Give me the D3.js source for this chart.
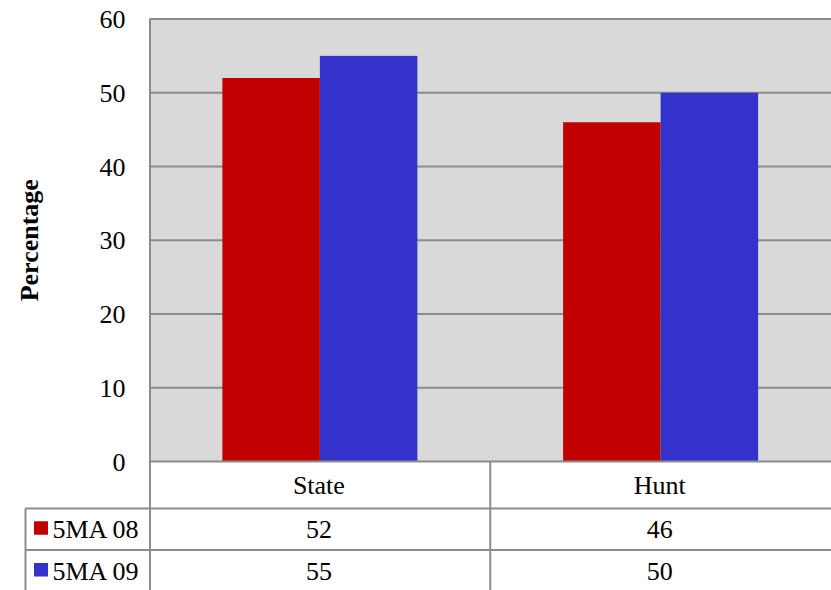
<!DOCTYPE html>
<html>
<head>
<meta charset="utf-8">
<script src="https://cdn.jsdelivr.net/npm/d3@7"></script>
<style>
  html, body { margin: 0; padding: 0; background: #fff; }
  svg { display: block; }
</style>
</head>
<body>
<svg id="chart" width="831" height="590"></svg>
<script>
const categories = ["State", "Hunt"];
const seriesNames = ["5MA 08", "5MA 09"];
const values08 = [52, 46];
const values09 = [55, 50];
const seriesColors = ["#c00000", "#3333cc"];
const yTicks = [0, 10, 20, 30, 40, 50, 60];
const yLabel = "Percentage";

(function () {
const seriesValues = [values08, values09];
const svg = d3.select("#chart");
const W = 831, H = 590;
const pLeft = 149.5, pRight = 831, pTop = 19, pBottom = 461.5;
const gridColor = "#8c8c8c";
const fs = 26;
const FONT = '"Liberation Serif"';

const x = d3.scaleBand().domain(categories).range([pLeft, pRight]).padding(0);
const y = d3.scaleLinear().domain([0, 60]).range([pBottom, pTop]);
const barW = 97.5;
const xs = d3.scaleBand().domain(seriesNames).range([-barW, barW]).padding(0);

svg.append("rect").attr("x", pLeft).attr("y", pTop)
  .attr("width", pRight - pLeft + 2).attr("height", pBottom - pTop).attr("fill", "#d9d9d9");

svg.append("g").selectAll("line").data(yTicks.filter(d => d > 0)).join("line")
  .attr("x1", pLeft).attr("x2", W + 2)
  .attr("y1", d => y(d)).attr("y2", d => y(d))
  .attr("stroke", gridColor).attr("stroke-width", 2);

categories.forEach((c, ci) => {
  const cx = x(c) + x.bandwidth() / 2;
  seriesNames.forEach((s, si) => {
    const v = seriesValues[si][ci];
    svg.append("rect")
      .attr("x", cx + xs(s)).attr("width", xs.bandwidth())
      .attr("y", y(v)).attr("height", y(0) - y(v))
      .attr("fill", seriesColors[si]);
  });
});

const yAxis = d3.axisLeft(y).tickValues(yTicks).tickSize(0).tickPadding(24);
const ga = svg.append("g").attr("transform", `translate(${pLeft},0)`).call(yAxis);
ga.select(".domain").remove();
ga.attr("font-family", null).attr("font-size", null);
ga.selectAll("text").style("font-family", FONT).style("font-size", fs + "px")
  .attr("fill", "#000").attr("dy", "0.33em");

svg.append("text")
  .attr("transform", `translate(38,${(pTop + pBottom) / 2}) rotate(-90)`)
  .attr("text-anchor", "middle").style("font-family", FONT).style("font-weight", "bold")
  .style("font-size", fs + "px").attr("fill", "#000")
  .text(yLabel);

const rowTops = [pBottom, 508.5, 550, 592];
const tg = svg.append("g");
tg.append("line").attr("x1", pLeft).attr("x2", W + 2).attr("y1", pBottom).attr("y2", pBottom)
  .attr("stroke", gridColor).attr("stroke-width", 2);
[rowTops[1], rowTops[2]].forEach(yy => {
  tg.append("line").attr("x1", 25).attr("x2", W + 2).attr("y1", yy).attr("y2", yy)
    .attr("stroke", gridColor).attr("stroke-width", 2);
});
tg.append("line").attr("x1", pLeft + 0.5).attr("x2", pLeft + 0.5).attr("y1", pTop).attr("y2", H + 2)
  .attr("stroke", gridColor).attr("stroke-width", 2);
tg.append("line").attr("x1", x(categories[1])).attr("x2", x(categories[1]))
  .attr("y1", pBottom).attr("y2", H + 2)
  .attr("stroke", gridColor).attr("stroke-width", 2);
tg.append("line").attr("x1", 25.5).attr("x2", 25.5).attr("y1", rowTops[1]).attr("y2", H + 2)
  .attr("stroke", gridColor).attr("stroke-width", 2);

function txt(sel) {
  return sel.style("font-family", FONT).style("font-size", fs + "px").attr("fill", "#000");
}

categories.forEach(c => {
  txt(tg.append("text")).attr("x", x(c) + x.bandwidth() / 2 - 1)
    .attr("y", (rowTops[0] + rowTops[1]) / 2).attr("dy", "0.33em")
    .attr("text-anchor", "middle").text(c);
});
seriesNames.forEach((s, si) => {
  const cy = (rowTops[si + 1] + rowTops[si + 2]) / 2;
  tg.append("rect").attr("x", 34).attr("y", cy - 8).attr("width", 14).attr("height", 13.5)
    .attr("fill", seriesColors[si]);
  txt(tg.append("text")).attr("x", 52.5).attr("y", cy).attr("dy", "0.33em").text(s);
  categories.forEach((c, ci) => {
    txt(tg.append("text")).attr("x", x(c) + x.bandwidth() / 2 - 1)
      .attr("y", cy).attr("dy", "0.33em")
      .attr("text-anchor", "middle").text(seriesValues[si][ci]);
  });
});
})();
</script>
</body>
</html>
